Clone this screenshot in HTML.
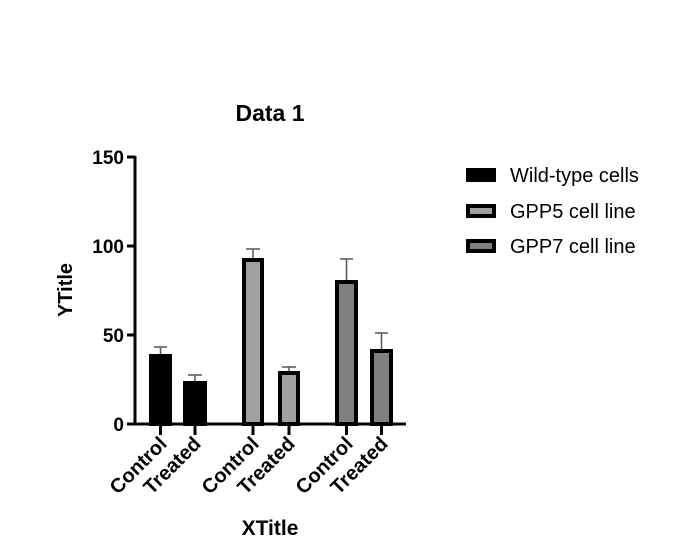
<!DOCTYPE html>
<html><head><meta charset="utf-8"><style>body{margin:0;background:#fff}svg{display:block}text{font-family:"Liberation Sans",Arial,sans-serif}</style></head><body>
<svg width="680" height="547" viewBox="0 0 680 547">
<text x="270" y="121" font-size="23" font-weight="bold" text-anchor="middle">Data 1</text>
<text transform="translate(72,290) rotate(-90)" font-size="20" font-weight="bold" text-anchor="middle">YTitle</text>
<text x="270" y="535" font-size="21" font-weight="bold" text-anchor="middle">XTitle</text>
<g font-size="19" font-weight="bold" text-anchor="end">
<text x="124" y="164">150</text><text x="124" y="253">100</text><text x="124" y="342">50</text><text x="124" y="431">0</text>
</g>
<g stroke="#000" stroke-width="3">
<line x1="135" y1="156" x2="135" y2="425"/>
<line x1="127" y1="157" x2="135" y2="157"/><line x1="127" y1="246" x2="135" y2="246"/><line x1="127" y1="335" x2="135" y2="335"/>
<line x1="127" y1="424" x2="406" y2="424"/>
</g>
<g stroke="#555" stroke-width="1.5" fill="none">
<path d="M160.5 355V347M154 347H167"/>
<path d="M195 382V375M188 375H202"/>
<path d="M253 259V249M246 249H260"/>
<path d="M289 372V367M282 367H296"/>
<path d="M346.5 281V259M340 259H353"/>
<path d="M381.5 350V333M375 333H388"/>
</g>
<g stroke="#000" stroke-width="4">
<rect x="151" y="356" width="19" height="68" fill="#000"/>
<rect x="185" y="383" width="20" height="41" fill="#000"/>
<rect x="244" y="260" width="18" height="164" fill="#a0a0a4"/>
<rect x="280" y="373" width="18" height="51" fill="#a0a0a4"/>
<rect x="337" y="282" width="19" height="142" fill="#808080"/>
<rect x="372" y="351" width="19" height="73" fill="#808080"/>
</g>
<g stroke="#000" stroke-width="3">
<line x1="160.5" y1="424" x2="160.5" y2="435"/><line x1="195" y1="424" x2="195" y2="435"/>
<line x1="253" y1="424" x2="253" y2="435"/><line x1="289" y1="424" x2="289" y2="435"/>
<line x1="346.5" y1="424" x2="346.5" y2="435"/><line x1="381.5" y1="424" x2="381.5" y2="435"/>
</g>
<g font-size="20" font-weight="bold" text-anchor="end">
<text transform="translate(168,445) rotate(-45)">Control</text>
<text transform="translate(202,445) rotate(-45)">Treated</text>
<text transform="translate(260,445) rotate(-45)">Control</text>
<text transform="translate(296,445) rotate(-45)">Treated</text>
<text transform="translate(354,445) rotate(-45)">Control</text>
<text transform="translate(389,445) rotate(-45)">Treated</text>
</g>
<g stroke="#000" stroke-width="4">
<rect x="468" y="170" width="26" height="10" fill="#000"/>
<rect x="468" y="206" width="26" height="10" fill="#a0a0a4"/>
<rect x="468" y="241" width="26" height="10" fill="#808080"/>
</g>
<g font-size="20">
<text x="510" y="182">Wild-type cells</text>
<text x="510" y="218">GPP5 cell line</text>
<text x="510" y="253">GPP7 cell line</text>
</g>
</svg>
</body></html>
